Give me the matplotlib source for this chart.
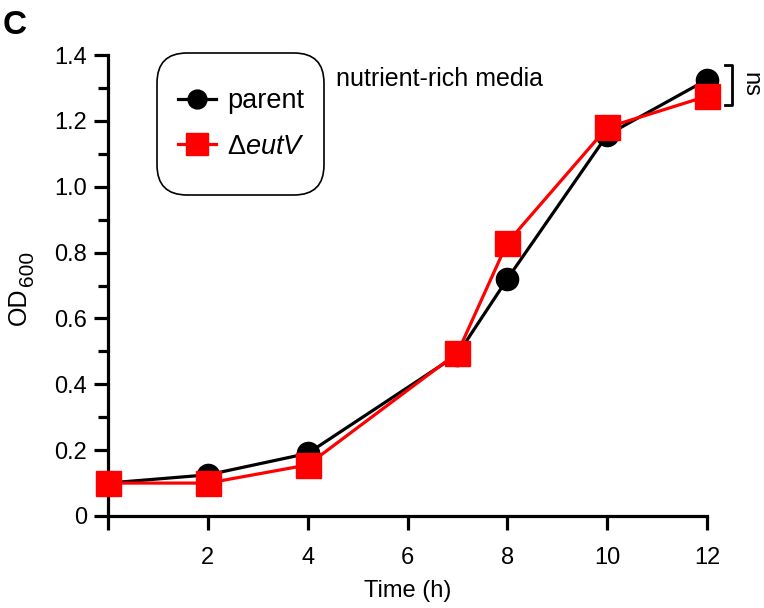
import matplotlib
matplotlib.use("Agg")
import matplotlib.pyplot as plt
from matplotlib.ticker import MultipleLocator, FixedLocator
from matplotlib.patches import FancyBboxPatch
from matplotlib.transforms import IdentityTransform

plt.rcParams['font.family'] = ['Liberation Sans', 'DejaVu Sans']
plt.rcParams['mathtext.fontset'] = 'custom'
plt.rcParams['mathtext.rm'] = 'Liberation Sans'
plt.rcParams['mathtext.it'] = 'Liberation Sans:italic'

time_h = [0, 2, 4, 7, 8, 10, 12]
parent_od = [0.10, 0.125, 0.19, 0.49, 0.72, 1.157, 1.325]
eutv_od = [0.10, 0.10, 0.155, 0.495, 0.83, 1.18, 1.275]
x_ticks = [0, 2, 4, 6, 8, 10, 12]
x_tick_labels = ["", "2", "4", "6", "8", "10", "12"]
y_ticks = [0, 0.2, 0.4, 0.6, 0.8, 1.0, 1.2, 1.4]
y_tick_labels = ["0", "0.2", "0.4", "0.6", "0.8", "1.0", "1.2", "1.4"]

W, H = 764, 608
fig = plt.figure(figsize=(W / 100, H / 100), dpi=100)
ax = fig.add_axes([108 / W, 1 - 516 / H, 599 / W, 461 / H])

ax.plot(time_h, parent_od, color="black", lw=2.3, marker="o", ms=16,
        label="parent", zorder=3, clip_on=False)
ax.plot(time_h, eutv_od, color="#ff0000", lw=2.3, marker="s", ms=18,
        label=r"$\Delta$$\it{eutV}$", zorder=4, clip_on=False)

ax.set_xlim(0, 12)
ax.set_ylim(0, 1.4)
ax.xaxis.set_major_locator(FixedLocator(x_ticks))
ax.set_xticklabels(x_tick_labels)
ax.yaxis.set_major_locator(FixedLocator(y_ticks))
ax.set_yticklabels(y_tick_labels)
ax.yaxis.set_minor_locator(MultipleLocator(0.1))

for s in ["top", "right"]:
    ax.spines[s].set_visible(False)
for s in ["left", "bottom"]:
    ax.spines[s].set_linewidth(2.3)
ax.tick_params(axis="both", which="major", direction="out", width=2.3,
               length=10, labelsize=17, pad=5)
ax.tick_params(axis="x", which="major", length=10, pad=12)
ax.tick_params(axis="y", which="minor", direction="out", width=2.3, length=7)

ax.set_xlabel("Time (h)", fontsize=17, labelpad=8)

# y-axis label drawn as two pieces so the subscript keeps its size
fig.text(19 / W, 1 - 306 / H, "OD", rotation=90, fontsize=18,
         ha="center", va="center")
fig.text(27 / W, 1 - 268 / H, "600", rotation=90, fontsize=15,
         ha="center", va="center")

# rounded legend box
box = FancyBboxPatch((157, H - 195), 167, 142,
                     boxstyle="round,pad=0,rounding_size=30",
                     transform=IdentityTransform(), facecolor="white",
                     edgecolor="black", lw=1.2, zorder=5)
fig.add_artist(box)

leg = fig.legend(handles=ax.get_lines(), loc="upper left",
                 bbox_to_anchor=(178 / W, 1 - 88 / H),
                 bbox_transform=fig.transFigure, fontsize=19.5,
                 frameon=False, handlelength=1.4, handletextpad=0.4,
                 borderpad=0.0, labelspacing=0.72, borderaxespad=0.0,
                 markerscale=0.85)
leg.set_zorder(6)

fig.text(336 / W, 1 - 79 / H, "nutrient-rich media", fontsize=18,
         va="center", ha="left")

# significance bracket at 12 h
bx = 12.5
ax.plot([bx - 0.13, bx, bx, bx - 0.13], [1.37, 1.37, 1.248, 1.248],
        color="black", lw=2, clip_on=False)
ax.text(12.88, 1.31, "ns", rotation=-90, fontsize=17,
        va="center", ha="center", clip_on=False)

fig.text(3 / W, 1 - 26 / H, "C", fontsize=24, fontweight="bold",
         va="center", ha="left")

fig.savefig("out.png", dpi=100)
